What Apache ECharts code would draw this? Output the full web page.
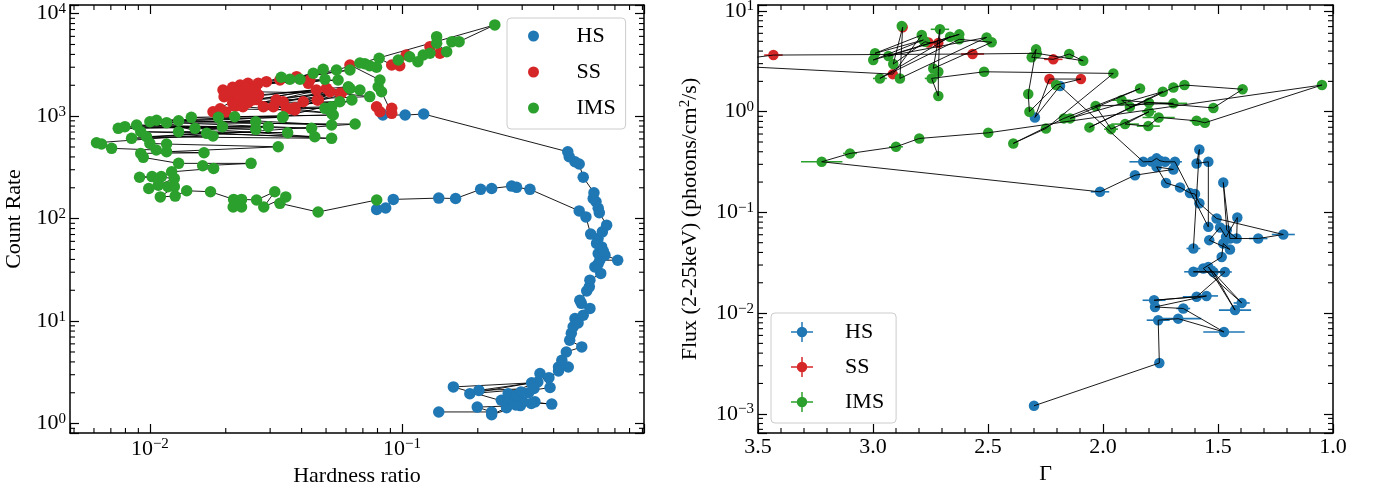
<!DOCTYPE html>
<html>
<head>
<meta charset="utf-8">
<script src="https://cdn.jsdelivr.net/npm/echarts@6/dist/echarts.min.js"></script>
<style>
html, body { margin: 0; padding: 0; background: #fff; }
#main { width: 1376px; height: 485px; }
</style>
</head>
<body>
<div id="main"></div>
<script>
// state codes
const H = 0, S = 1, I = 2;
const stateNames = ['HS', 'SS', 'IMS'];
const stateColors = ['#1f77b4', '#d62728', '#2ca02c'];

// left panel: [hardness ratio, count rate, state], in time order
const hidRise = [
  [0.140, 1.30, H], [0.227, 1.30, H], [0.199, 1.45, H], [0.295, 1.50, H], [0.227, 1.22, H],
  [0.260, 1.43, H], [0.337, 1.63, H], [0.248, 1.69, H], [0.326, 1.57, H], [0.274, 1.69, H],
  [0.393, 1.55, H], [0.302, 1.63, H], [0.283, 1.52, H], [0.160, 2.28, H], [0.327, 2.50, H],
  [0.186, 1.96, H], [0.334, 2.20, H], [0.202, 2.11, H], [0.346, 2.55, H], [0.264, 1.96, H],
  [0.285, 1.89, H], [0.318, 2.00, H], [0.297, 2.04, H], [0.387, 2.25, H], [0.353, 3.08, H],
  [0.383, 2.81, H], [0.418, 3.26, H], [0.457, 3.57, H], [0.418, 3.57, H], [0.431, 4.15, H],
  [0.449, 5.0, H], [0.517, 5.6, H], [0.463, 6.5, H], [0.470, 7.6, H], [0.478, 8.8, H],
  [0.486, 10.6, H], [0.500, 9.6, H], [0.524, 11.4, H], [0.557, 13.3, H], [0.515, 14.9, H],
  [0.508, 16.0, H], [0.541, 19.7, H], [0.554, 21.6, H], [0.557, 25.1, H], [0.615, 29.2, H],
  [0.583, 33.8, H], [0.600, 36.0, H], [0.610, 39.3, H], [0.718, 39.3, H], [0.639, 44, H],
  [0.601, 45.7, H], [0.620, 53, H], [0.630, 48, H], [0.592, 57.3, H], [0.600, 64, H],
  [0.624, 74.3, H], [0.649, 86.4, H], [0.607, 114, H], [0.601, 126, H], [0.589, 146, H],
  [0.574, 157, H], [0.578, 179, H], [0.524, 253, H], [0.505, 341, H], [0.486, 359, H],
  [0.461, 401, H], [0.455, 449, H], [0.122, 1048, H], [0.103, 1025, H], [0.084, 1025, H]
];
const hidSoft = [
  [0.0793, 1236, S], [0.0818, 1104, S], [0.0911, 1191, S], [0.0911, 1065, S], [0.0830, 1730, I],
  [0.0805, 1937, I], [0.0818, 2250, I], [0.0622, 3155, S], [0.0681, 3300, I], [0.0712, 3250, I],
  [0.0745, 3100, I], [0.0793, 3000, I], [0.0812, 3667, I], [0.0911, 3155, S], [0.0980, 3100, S],
  [0.0967, 3530, I], [0.1040, 3953, S], [0.1073, 3800, I], [0.1157, 3400, I], [0.1215, 3953, I],
  [0.1292, 4103, I], [0.1292, 4764, S], [0.1415, 4103, S], [0.1373, 5960, I], [0.1373, 5140, I],
  [0.1505, 4256, I], [0.1578, 5330, I], [0.1686, 5330, I], [0.2336, 7760, I], [0.0550, 2820, I],
  [0.0382, 2426, S], [0.0332, 2393, I], [0.0290, 2170, S], [0.0622, 2820, I], [0.0328, 2250, S],
  [0.0359, 2287, I], [0.0445, 2618, I], [0.0394, 2287, I], [0.0487, 2864, I], [0.0425, 2090, S],
  [0.0495, 2287, I], [0.0245, 2090, S], [0.0558, 2250, I], [0.0269, 2090, S], [0.0228, 2014, S],
  [0.0431, 2250, S], [0.0213, 1911, S], [0.0238, 1950, S], [0.0195, 1798, S], [0.0220, 1700, S],
  [0.0197, 1548, S], [0.0240, 1800, S], [0.0213, 1334, S], [0.0225, 1500, S], [0.0178, 1104, S],
  [0.0200, 1100, S], [0.0234, 1236, S], [0.0205, 1650, S], [0.0230, 1607, S], [0.0262, 1850, S],
  [0.0253, 1730, S], [0.0575, 1670, S], [0.0255, 1436, S], [0.0458, 1798, S], [0.0250, 1550, S],
  [0.0270, 1607, S], [0.0613, 1937, I], [0.0282, 1236, S], [0.0567, 1383, I], [0.0245, 1350, S],
  [0.0309, 1236, S], [0.0526, 1065, I], [0.0218, 1250, S], [0.0317, 1436, S], [0.0502, 1870, S],
  [0.0265, 1450, S], [0.0348, 1191, S], [0.0622, 1860, I], [0.0190, 1180, S], [0.0376, 1148, S],
  [0.0461, 1436, S], [0.0406, 1383, S], [0.0518, 1730, S], [0.0466, 1436, S], [0.0567, 1670, S],
  [0.0745, 1550, I], [0.0318, 1436, S], [0.0338, 1380, S], [0.0681, 1800, I], [0.0359, 1180, S],
  [0.0495, 1191, I], [0.0376, 1210, S], [0.0526, 1236, I], [0.0633, 1436, I], [0.0338, 986, I]
];
const hidDecay = [
  [0.0217, 986, I], [0.0187, 973, I], [0.0534, 1025, I], [0.0146, 973, I], [0.0526, 819, I],
  [0.0130, 902, I], [0.0336, 973, I], [0.01063, 912, I], [0.0263, 881, I], [0.0100, 881, I],
  [0.0438, 760, I], [0.00886, 818, I], [0.0263, 743, I], [0.00796, 789, I], [0.0295, 789, I],
  [0.00749, 760, I], [0.0194, 789, I], [0.0151, 760, I], [0.0451, 629, I], [0.0092, 704, I],
  [0.0352, 689, I], [0.0130, 704, I], [0.0526, 607, I], [0.0097, 629, I], [0.0168, 679, I],
  [0.00846, 607, I], [0.0178, 640, I], [0.01165, 863, I], [0.0652, 837, I], [0.00614, 550, I],
  [0.00643, 534, I], [0.00705, 485, I], [0.0106, 467, I], [0.0100, 542, I], [0.01165, 534, I],
  [0.0323, 502, I], [0.01165, 449, I], [0.0164, 439, I], [0.0092, 433, I], [0.00941, 396, I],
  [0.0130, 346, I], [0.0252, 346, I], [0.0162, 328, I], [0.0179, 309, I], [0.0122, 286, I],
  [0.0111, 257, I], [0.0091, 253, I], [0.0102, 257, I], [0.0125, 247, I], [0.0108, 212, I],
  [0.0099, 197, I], [0.0118, 205, I], [0.0125, 205, I], [0.0110, 163, I], [0.0126, 166, I],
  [0.0140, 187, I], [0.0174, 183, I], [0.0215, 154, I], [0.0214, 130, I], [0.0231, 130, I],
  [0.0231, 154, I], [0.0265, 152, I], [0.0313, 183, I], [0.0283, 130, I], [0.0346, 163, I],
  [0.0328, 141, I], [0.0465, 116, I], [0.0794, 152, I], [0.0794, 123, H], [0.0862, 127, H],
  [0.0924, 154, H], [0.140, 158.6, H], [0.1633, 157, H], [0.2053, 193, H], [0.227, 197, H],
  [0.2724, 207.6, H], [0.285, 202, H], [0.322, 193, H], [0.505, 119, H], [0.537, 104, H],
  [0.561, 70.6, H]
];

// right panel: [photon index, flux, photon index error, state], in time order
const gxRise = [
  [1.607, 0.0438, 0.03, H], [1.581, 0.422, 0.02, H], [1.593, 0.306, 0.02, H], [1.542, 0.318, 0.02, H],
  [1.542, 0.0718, 0.02, H], [1.687, 0.318, 0.03, H], [1.730, 0.318, 0.02, H], [1.752, 0.325, 0.03, H],
  [1.767, 0.344, 0.02, H], [1.788, 0.320, 0.03, H], [1.825, 0.318, 0.06, H], [2.187, 1.80, 0.02, H]
];
const gxSoft = [
  [2.296, 0.877, 0.01, H], [2.233, 2.11, 0.02, S], [2.096, 2.11, 0.01, S], [2.204, 1.84, 0.01, I],
  [2.320, 1.00, 0.01, I], [2.325, 1.50, 0.02, I], [2.291, 4.16, 0.01, I], [2.310, 3.47, 0.01, I],
  [2.216, 3.31, 0.04, S], [2.147, 3.74, 0.01, I], [2.086, 3.20, 0.01, I], [2.288, 3.80, 0.01, I],
  [2.567, 3.74, 0.05, S], [3.433, 3.65, 0.04, S], [3.750, 2.95, 0.04, S], [2.914, 2.36, 0.02, S],
  [2.788, 5.77, 0.01, I], [2.991, 3.80, 0.01, I], [2.781, 5.15, 0.01, I], [2.999, 3.26, 0.01, I],
  [2.625, 5.86, 0.01, I], [2.933, 3.57, 0.01, I], [2.506, 5.47, 0.01, I], [2.883, 2.14, 0.01, I],
  [2.871, 6.90, 0.01, S], [2.875, 7.10, 0.01, I], [2.912, 2.97, 0.01, I], [2.774, 4.95, 0.01, I],
  [2.759, 4.86, 0.02, S], [2.716, 4.80, 0.02, S], [2.665, 5.55, 0.01, I], [2.970, 2.14, 0.03, I],
  [2.625, 5.23, 0.01, I], [2.484, 4.89, 0.01, I], [2.738, 2.69, 0.01, I], [2.709, 6.58, 0.04, I],
  [2.716, 2.49, 0.01, I], [2.716, 1.43, 0.01, I], [2.745, 2.14, 0.03, I], [2.517, 2.49, 0.01, I]
];
const gxIms = [
  [1.955, 2.40, 0.01, I], [2.248, 0.682, 0.01, I], [2.390, 0.484, 0.01, I], [2.170, 0.858, 0.01, I],
  [1.839, 1.70, 0.02, I], [2.143, 0.858, 0.01, I], [1.740, 1.58, 0.01, I], [2.059, 0.698, 0.01, I],
  [1.694, 1.74, 0.01, I], [1.646, 1.84, 0.01, I], [1.393, 1.67, 0.02, I], [1.520, 1.09, 0.01, I],
  [1.919, 1.30, 0.04, I], [1.883, 1.12, 0.01, I], [1.800, 1.23, 0.01, I], [1.694, 1.21, 0.06, I],
  [2.032, 1.14, 0.02, I], [1.965, 0.671, 0.03, I], [1.800, 1.00, 0.03, I], [1.904, 0.753, 0.06, I],
  [1.803, 0.719, 0.05, I], [1.758, 0.877, 0.07, I], [1.593, 0.812, 0.03, I], [1.557, 0.776, 0.02, I],
  [1.048, 1.84, 0.01, I], [2.499, 0.617, 0.01, I], [2.799, 0.542, 0.01, I], [2.900, 0.448, 0.03, I],
  [3.100, 0.385, 0.03, I], [3.223, 0.318, 0.09, I]
];
const gxDecay = [
  [2.013, 0.160, 0.04, H], [1.861, 0.234, 0.01, H], [1.694, 0.267, 0.02, H], [1.767, 0.283, 0.01, H],
  [1.726, 0.196, 0.01, H], [1.665, 0.177, 0.01, H], [1.622, 0.156, 0.01, H], [1.600, 0.152, 0.01, H],
  [1.581, 0.123, 0.01, H], [1.506, 0.0869, 0.01, H], [1.216, 0.0603, 0.05, H], [1.325, 0.055, 0.04, H],
  [1.448, 0.055, 0.02, H], [1.477, 0.198, 0.01, H], [1.462, 0.0666, 0.02, H], [1.419, 0.055, 0.02, H],
  [1.416, 0.089, 0.01, H], [1.465, 0.057, 0.02, H], [1.491, 0.0708, 0.02, H], [1.538, 0.053, 0.02, H],
  [1.448, 0.0428, 0.02, H], [1.477, 0.049, 0.02, H], [1.484, 0.0361, 0.02, H], [1.564, 0.0277, 0.03, H],
  [1.397, 0.0126, 0.035, H], [1.542, 0.0287, 0.03, H], [1.426, 0.0107, 0.07, H], [1.520, 0.0256, 0.03, H],
  [1.607, 0.0257, 0.04, H], [1.470, 0.0256, 0.03, H], [1.593, 0.0145, 0.06, H], [1.778, 0.0134, 0.05, H],
  [1.550, 0.0148, 0.05, H], [1.774, 0.0115, 0.02, H], [1.651, 0.0111, 0.03, H], [1.474, 0.00649, 0.09, H],
  [1.673, 0.0088, 0.10, H], [1.760, 0.0085, 0.05, H], [1.755, 0.00319, 0.02, H], [2.300, 0.00120, 0.02, H]
];

// axis ranges and ticks
const hrRange = [0.00482, 0.913];
const rateRange = [0.81, 12140];
const gammaRange = [1.0, 3.5];
const fluxRange = [6.44e-4, 11.47];
const minorMantissa = [2, 3, 4, 5, 6, 7, 8, 9];
const gammaMinor = [1.1, 1.2, 1.3, 1.4, 1.6, 1.7, 1.8, 1.9, 2.1, 2.2, 2.3, 2.4, 2.6, 2.7, 2.8, 2.9, 3.1, 3.2, 3.3, 3.4];

const FONT = 'Liberation Serif';

function logMinors(range) {
  const out = [];
  for (let e = Math.floor(Math.log10(range[0])); e <= Math.ceil(Math.log10(range[1])); e++) {
    minorMantissa.forEach(function (m) {
      const v = m * Math.pow(10, e);
      if (v > range[0] && v < range[1]) out.push(v);
    });
  }
  return out;
}

function powLabel(v) {
  const e = Math.log10(v);
  const r = Math.round(e);
  if (Math.abs(e - r) > 1e-6) return '';
  return '{b|10}{s|' + (r < 0 ? '\u2212' + (-r) : r) + '}';
}
const richPow = {
  b: { fontFamily: FONT, fontSize: 22, color: '#000', lineHeight: 24 },
  s: { fontFamily: FONT, fontSize: 15, color: '#000', lineHeight: 15, verticalAlign: 'top' }
};

function baseAxis(extra) {
  return Object.assign({
    axisLine: { show: true, onZero: false, lineStyle: { color: '#000', width: 1.5 } },
    axisTick: { show: true, inside: true, length: 9, lineStyle: { color: '#000', width: 1.2 } },
    splitLine: { show: false },
    minorTick: { show: false },
    minorSplitLine: { show: false }
  }, extra);
}
function logAxis(range, extra) {
  return baseAxis(Object.assign({
    type: 'log', logBase: 10, min: range[0], max: range[1],
    axisLabel: { show: true, formatter: powLabel, rich: richPow, margin: 4 }
  }, extra));
}
function hiddenLabels(axis) {
  axis.axisLabel = { show: false };
  return axis;
}

const xAxes = [
  logAxis(hrRange, { gridIndex: 0, position: 'bottom',
    name: 'Hardness ratio', nameLocation: 'middle', nameGap: 27,
    nameTextStyle: { fontFamily: FONT, fontSize: 22, color: '#000' } }),
  hiddenLabels(logAxis(hrRange, { gridIndex: 0, position: 'top' })),
  baseAxis({ type: 'value', gridIndex: 1, position: 'bottom', inverse: true,
    min: gammaRange[0], max: gammaRange[1], interval: 0.5,
    axisLabel: { formatter: function (v) { return v.toFixed(1); }, fontFamily: FONT, fontSize: 22, color: '#000', margin: 3 },
    name: '\u0393', nameLocation: 'middle', nameGap: 27,
    nameTextStyle: { fontFamily: FONT, fontSize: 22, color: '#000' } }),
  hiddenLabels(baseAxis({ type: 'value', gridIndex: 1, position: 'top', inverse: true,
    min: gammaRange[0], max: gammaRange[1], interval: 0.5 }))
];
const yAxes = [
  logAxis(rateRange, { gridIndex: 0, position: 'left',
    name: 'Count Rate', nameLocation: 'middle', nameGap: 45,
    nameTextStyle: { fontFamily: FONT, fontSize: 22, color: '#000' } }),
  hiddenLabels(logAxis(rateRange, { gridIndex: 0, position: 'right' })),
  logAxis(fluxRange, { gridIndex: 1, position: 'left',
    name: '{a|Flux (2-25keV) (photons/cm}{s|2}{a|/s)}', nameLocation: 'middle', nameGap: 56,
    nameTextStyle: { rich: {
      a: { fontFamily: FONT, fontSize: 22, color: '#000', lineHeight: 24 },
      s: { fontFamily: FONT, fontSize: 15, color: '#000', lineHeight: 15, verticalAlign: 'top' }
    } } }),
  hiddenLabels(logAxis(fluxRange, { gridIndex: 1, position: 'right' }))
];

// minor ticks drawn through the axes' own scales, inward on both sides of the frame
function minorXRender(params, api) {
  const p = api.coord([api.value(0), api.value(1)]);
  const cs = params.coordSys;
  const st = { stroke: '#000', lineWidth: 1.1 };
  return { type: 'group', children: [
    { type: 'line', shape: { x1: p[0], y1: cs.y + cs.height, x2: p[0], y2: cs.y + cs.height - 5 }, style: st },
    { type: 'line', shape: { x1: p[0], y1: cs.y, x2: p[0], y2: cs.y + 5 }, style: st }
  ] };
}
function minorYRender(params, api) {
  const p = api.coord([api.value(0), api.value(1)]);
  const cs = params.coordSys;
  const st = { stroke: '#000', lineWidth: 1.1 };
  return { type: 'group', children: [
    { type: 'line', shape: { x1: cs.x, y1: p[1], x2: cs.x + 5, y2: p[1] }, style: st },
    { type: 'line', shape: { x1: cs.x + cs.width, y1: p[1], x2: cs.x + cs.width - 5, y2: p[1] }, style: st }
  ] };
}
function minorSeries(xi, yi, data, render) {
  return { type: 'custom', xAxisIndex: xi, yAxisIndex: yi, renderItem: render, data: data,
    silent: true, z: 6, clip: false };
}

const series = [];
// left panel: connecting line sits under the markers
const hidAll = hidRise.concat(hidSoft, hidDecay);
series.push({
  type: 'line', xAxisIndex: 0, yAxisIndex: 0, showSymbol: false, symbol: 'none', z: 2,
  lineStyle: { color: '#000', width: 0.9 },
  data: hidAll.map(function (p) { return [p[0], p[1]]; })
});
stateNames.forEach(function (name, k) {
  series.push({
    name: name, type: 'scatter', xAxisIndex: 0, yAxisIndex: 0, symbolSize: 11.5,
    itemStyle: { color: stateColors[k], opacity: 1 }, z: 3,
    data: hidAll.filter(function (p) { return p[2] === k; }).map(function (p) { return [p[0], p[1]]; })
  });
});
// right panel
const gxAll = gxRise.concat(gxSoft, gxIms, gxDecay);
stateNames.forEach(function (name, k) {
  const pts = gxAll.filter(function (p) { return p[3] === k; });
  series.push({
    type: 'custom', xAxisIndex: 2, yAxisIndex: 2, z: 2, silent: true, clip: true,
    data: pts.map(function (p) { return [p[0], p[1], p[2]]; }),
    renderItem: function (params, api) {
      const a = api.coord([api.value(0) - api.value(2), api.value(1)]);
      const b = api.coord([api.value(0) + api.value(2), api.value(1)]);
      return { type: 'line', shape: { x1: a[0], y1: a[1], x2: b[0], y2: b[1] },
        style: { stroke: stateColors[k], lineWidth: 1.6 } };
    }
  });
  series.push({
    name: name, type: 'scatter', xAxisIndex: 2, yAxisIndex: 2, symbolSize: 10.5,
    itemStyle: { color: stateColors[k], opacity: 1 }, z: 3,
    data: pts.map(function (p) { return [p[0], p[1]]; })
  });
});
series.push({
  type: 'line', xAxisIndex: 2, yAxisIndex: 2, showSymbol: false, symbol: 'none', z: 4,
  lineStyle: { color: '#000', width: 0.9 },
  data: gxAll.map(function (p) { return [p[0], p[1]]; })
});
// minor ticks
series.push(minorSeries(0, 0, logMinors(hrRange).map(function (v) { return [v, 10]; }), minorXRender));
series.push(minorSeries(0, 0, logMinors(rateRange).map(function (v) { return [0.1, v]; }), minorYRender));
series.push(minorSeries(2, 2, gammaMinor.map(function (v) { return [v, 1]; }), minorXRender));
series.push(minorSeries(2, 2, logMinors(fluxRange).map(function (v) { return [2, v]; }), minorYRender));

const errIcon = 'path://M0,9.25H22V10.75H0Z M10.25,0H11.75V20H10.25Z M16.25,10A5.25,5.25,0,1,1,5.75,10A5.25,5.25,0,1,1,16.25,10Z';
const legendText = { fontFamily: FONT, fontSize: 22, color: '#000', padding: [0, 0, 0, 27] };
const legendBox = { backgroundColor: 'rgba(255,255,255,0.8)', borderColor: '#cccccc', borderWidth: 1, borderRadius: 4,
  orient: 'vertical', selectedMode: false, itemWidth: 22 };

const option = {
  animation: false,
  backgroundColor: '#fff',
  grid: [
    { left: 70, top: 5, width: 574, height: 428, outerBoundsMode: 'none' },
    { left: 758, top: 5, width: 575, height: 428, outerBoundsMode: 'none' }
  ],
  xAxis: xAxes,
  yAxis: yAxes,
  legend: [
    Object.assign({}, legendBox, { left: 507, top: 18, icon: 'circle', itemHeight: 11, itemGap: 14,
      padding: [7, 10, 10, 21], textStyle: legendText,
      data: stateNames.map(function (n) { return { name: n }; }) }),
    Object.assign({}, legendBox, { left: 771, top: 313, itemHeight: 20, itemGap: 13,
      padding: [8, 12, 10, 20], textStyle: legendText,
      data: stateNames.map(function (n) { return { name: n, icon: errIcon }; }) })
  ],
  series: series
};

const chart = echarts.init(document.getElementById('main'), null, { renderer: 'canvas' });
chart.setOption(option);
window.onresize = chart.resize;
</script>
</body>
</html>
